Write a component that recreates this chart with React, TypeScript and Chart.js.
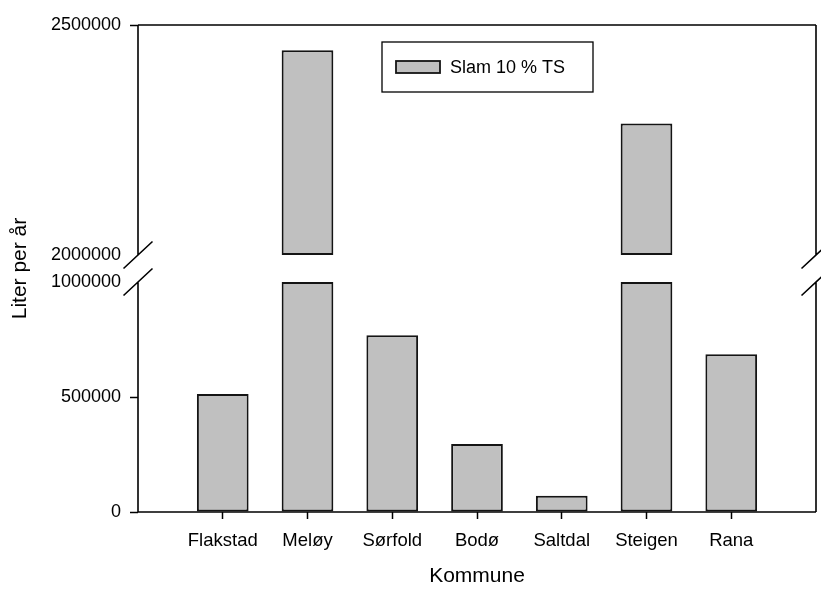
import React, { useEffect, useRef } from 'react';
import { Chart, registerables, LinearScale } from 'chart.js';

Chart.register(...registerables);

// ---- data ----
const CATEGORIES = ['Flakstad', 'Meløy', 'Sørfold', 'Bodø', 'Saltdal', 'Steigen', 'Rana'];
const SLAM_VALUES = [513000, 2445000, 768000, 296000, 71000, 2286000, 686000];
const Y_TICKS = [0, 500000, 1000000, 2000000, 2500000];
const SERIES_LABEL = 'Slam 10 % TS';
const X_TITLE = 'Kommune';
const Y_TITLE = 'Liter per år';

// axis break definition
const LOWER_MAX = 1000000;
const UPPER_MIN = 2000000;
const UPPER_MAX = 2500000;
const SEG_FRAC = 230 / 487;
const GAP_FRAC = 27 / 487;

const FONT = "'Liberation Sans', Arial, Helvetica, sans-serif";

function valueToDecimal(v: number): number {
  if (v <= LOWER_MAX) return (v / LOWER_MAX) * SEG_FRAC;
  if (v < UPPER_MIN) return SEG_FRAC + ((v - LOWER_MAX) / (UPPER_MIN - LOWER_MAX)) * GAP_FRAC;
  return SEG_FRAC + GAP_FRAC + ((v - UPPER_MIN) / (UPPER_MAX - UPPER_MIN)) * SEG_FRAC;
}
function decimalToValue(d: number): number {
  if (d <= SEG_FRAC) return (d / SEG_FRAC) * LOWER_MAX;
  if (d < SEG_FRAC + GAP_FRAC) return LOWER_MAX + ((d - SEG_FRAC) / GAP_FRAC) * (UPPER_MIN - LOWER_MAX);
  return UPPER_MIN + ((d - SEG_FRAC - GAP_FRAC) / SEG_FRAC) * (UPPER_MAX - UPPER_MIN);
}

class BrokenLinearScale extends LinearScale {
  static id = 'brokenLinear';
  static defaults = {};
  getPixelForValue(value: number) {
    return (this as any).getPixelForDecimal(valueToDecimal(value));
  }
  getValueForPixel(pixel: number) {
    return decimalToValue((this as any).getDecimalForPixel(pixel));
  }
}
Chart.register(BrokenLinearScale as any);

const frameAndBreaks = {
  id: 'frameAndBreaks',
  afterDraw(chart: any) {
    const { ctx, chartArea } = chart;
    const { left, right, top, bottom } = chartArea;
    const y = chart.scales.y;
    const yLow = y.getPixelForValue(LOWER_MAX);
    const yUp = y.getPixelForValue(UPPER_MIN);
    ctx.save();
    ctx.strokeStyle = '#000';
    ctx.lineWidth = 1.6;
    ctx.beginPath();
    ctx.moveTo(left, top);
    ctx.lineTo(right, top);
    ctx.moveTo(left, bottom);
    ctx.lineTo(right, bottom);
    for (const x of [left, right]) {
      ctx.moveTo(x, top);
      ctx.lineTo(x, yUp);
      ctx.moveTo(x, yLow);
      ctx.lineTo(x, bottom);
      for (const yy of [yUp, yLow]) {
        ctx.moveTo(x - 14.5, yy + 13.5);
        ctx.lineTo(x + 14.5, yy - 13.5);
      }
    }
    ctx.stroke();
    ctx.restore();
  },
};

const boxLegend = {
  id: 'boxLegend',
  afterDraw(chart: any) {
    const ds = chart.data.datasets[0];
    const { ctx, chartArea } = chart;
    const bx = chartArea.left + 244;
    const by = chartArea.top + 17;
    const bw = 211;
    const bh = 50;
    ctx.save();
    ctx.strokeStyle = '#000';
    ctx.lineWidth = 1.3;
    ctx.strokeRect(bx, by, bw, bh);
    ctx.fillStyle = ds.backgroundColor;
    ctx.fillRect(bx + 14, by + 19, 44, 12);
    ctx.lineWidth = 1.8;
    ctx.strokeStyle = ds.borderColor;
    ctx.strokeRect(bx + 14, by + 19, 44, 12);
    ctx.fillStyle = '#000';
    ctx.font = `18px ${FONT}`;
    ctx.textBaseline = 'middle';
    ctx.textAlign = 'left';
    ctx.fillText(ds.label, bx + 68, by + 26);
    ctx.restore();
  },
};

export default function App() {
  const canvasRef = useRef<HTMLCanvasElement | null>(null);

  useEffect(() => {
    const canvas = canvasRef.current;
    if (!canvas) return;

    const lowerData = SLAM_VALUES.map((v, i) => ({ x: i, y: [0, Math.min(v, LOWER_MAX)] }));
    const upperData = SLAM_VALUES.map((v, i) => ({ x: i, y: v > UPPER_MIN ? [UPPER_MIN, v] : null }));

    const common = {
      backgroundColor: '#c0c0c0',
      borderColor: '#141414',
      borderWidth: 2,
      borderSkipped: false,
      grouped: false,
      categoryPercentage: 1,
      barPercentage: 0.61,
    };

    const chart = new Chart(canvas, {
      type: 'bar',
      data: {
        datasets: [
          { label: SERIES_LABEL, data: lowerData as any, ...common },
          { label: SERIES_LABEL + ' (upper)', data: upperData as any, ...common },
        ],
      },
      options: {
        animation: false,
        responsive: false,
        maintainAspectRatio: false,
        devicePixelRatio: 1,
        events: [],
        layout: { padding: { left: 0, right: 5, top: 25, bottom: 0 } },
        plugins: {
          legend: { display: false },
          tooltip: { enabled: false },
        },
        scales: {
          x: {
            type: 'linear',
            min: -1,
            max: 7,
            offset: false,
            afterBuildTicks: (scale: any) => {
              scale.ticks = CATEGORIES.map((_, i) => ({ value: i }));
            },
            afterFit: (scale: any) => {
              scale.height = 78;
            },
            grid: {
              offset: false,
              drawOnChartArea: false,
              drawTicks: true,
              tickLength: 7,
              tickWidth: 1.5,
              tickColor: '#000',
            },
            border: { display: false },
            ticks: {
              autoSkip: false,
              maxRotation: 0,
              minRotation: 0,
              padding: 11,
              color: '#000',
              font: { family: FONT, size: 18.5 },
              callback: (_v: any, i: number) => CATEGORIES[i],
            },
            title: {
              display: true,
              text: X_TITLE,
              color: '#000',
              font: { family: FONT, size: 21 },
              padding: { top: 0, bottom: 1 },
            },
          },
          y: {
            type: 'brokenLinear' as any,
            min: 0,
            max: UPPER_MAX,
            afterBuildTicks: (scale: any) => {
              scale.ticks = Y_TICKS.map((value) => ({ value }));
            },
            afterFit: (scale: any) => {
              scale.width = 138;
            },
            grid: {
              drawOnChartArea: false,
              drawTicks: true,
              tickLength: 8,
              tickWidth: 1.5,
              tickColor: (ctx: any) =>
                ctx.tick && ctx.tick.value >= LOWER_MAX && ctx.tick.value <= UPPER_MIN ? 'rgba(0,0,0,0)' : '#000',
            },
            border: { display: false },
            ticks: {
              autoSkip: false,
              padding: 9,
              color: '#000',
              font: { family: FONT, size: 18 },
              callback: (v: any) => String(v),
            },
            title: {
              display: true,
              text: Y_TITLE,
              color: '#000',
              font: { family: FONT, size: 21 },
              padding: { top: 8, bottom: 0 },
            },
          } as any,
        },
      } as any,
      plugins: [frameAndBreaks, boxLegend],
    });

    return () => chart.destroy();
  }, []);

  return (
    <div style={{ position: 'absolute', left: 0, top: 0, width: 821, height: 590, background: '#fff' }}>
      <canvas ref={canvasRef} width={821} height={590} style={{ display: 'block', width: 821, height: 590 }} />
    </div>
  );
}
